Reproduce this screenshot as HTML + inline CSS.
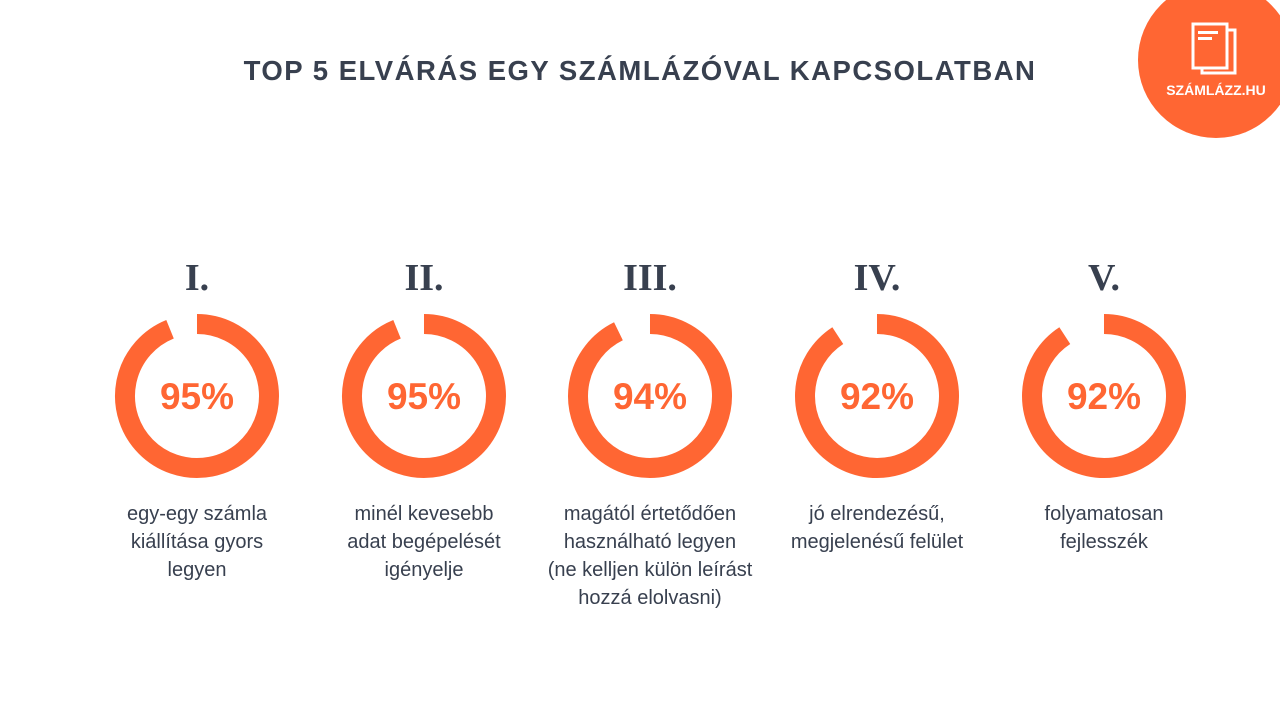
<!DOCTYPE html>
<html><head><meta charset="utf-8"><style>
body{margin:0;width:1280px;height:721px;background:#fff;position:relative;overflow:hidden;font-family:"Liberation Sans",sans-serif;}
.t{position:absolute;top:55px;left:0;width:1280px;text-align:center;font-weight:bold;font-size:27.5px;color:#38404f;letter-spacing:1.5px;}
.col{position:absolute;top:0;width:240px;margin-left:-120px;text-align:center;}
.rn{position:absolute;top:256px;width:240px;font-family:"Liberation Serif",serif;font-weight:bold;font-size:38px;color:#38404f;}
.lab{position:absolute;top:500px;width:240px;font-size:20px;line-height:28px;color:#38404f;}
svg.d{position:absolute;top:306px;left:30px;}
</style></head><body>
<div class="t">TOP 5 ELVÁRÁS EGY SZÁMLÁZÓVAL KAPCSOLATBAN</div>
<svg style="position:absolute;left:0;top:0" width="1280" height="721">
<circle cx="1216" cy="60" r="78" fill="#ff6633"/>
<rect x="1193" y="24" width="34" height="44" fill="none" stroke="#fff" stroke-width="3"/>
<path d="M1227 30 h8 v43 h-33 v-5" fill="none" stroke="#fff" stroke-width="3"/>
<rect x="1198" y="31" width="20" height="3" fill="#fff"/><rect x="1198" y="37" width="14" height="3" fill="#fff"/>
<text x="1216" y="95" text-anchor="middle" font-family="Liberation Sans" font-weight="bold" font-size="14" fill="#fff">SZÁMLÁZZ.HU</text>
</svg>
<div id="c"></div>
<script>
var d=[[197,"I.",95,22,"egy-egy számla<br>kiállítása gyors<br>legyen"],[424,"II.",95,22,"minél kevesebb<br>adat begépelését<br>igényelje"],[650,"III.",94,26,"magától értetődően<br>használható legyen<br>(ne kelljen külön leírást<br>hozzá elolvasni)"],[877,"IV.",92,33,"jó elrendezésű,<br>megjelenésű felület"],[1104,"V.",92,33,"folyamatosan<br>fejlesszék"]];
var h="";
d.forEach(function(e){
var r=72,cx=90,cy=90,a=(360-e[3])*Math.PI/180;
var x=cx+r*Math.sin(a),y=cy-r*Math.cos(a);
h+='<div class="col" style="left:'+e[0]+'px"><div class="rn">'+e[1]+'</div>'+
'<svg class="d" width="180" height="180" style="left:30px"><path d="M'+cx+' '+(cy-r)+' A'+r+' '+r+' 0 1 1 '+x.toFixed(2)+' '+y.toFixed(2)+'" fill="none" stroke="#ff6633" stroke-width="20"/>'+
'<text x="90" y="103" text-anchor="middle" font-family="Liberation Sans" font-weight="bold" font-size="37" fill="#ff6633">'+e[2]+'%</text></svg>'+
'<div class="lab">'+e[4]+'</div></div>';});
document.getElementById("c").innerHTML=h;
</script>
</body></html>
